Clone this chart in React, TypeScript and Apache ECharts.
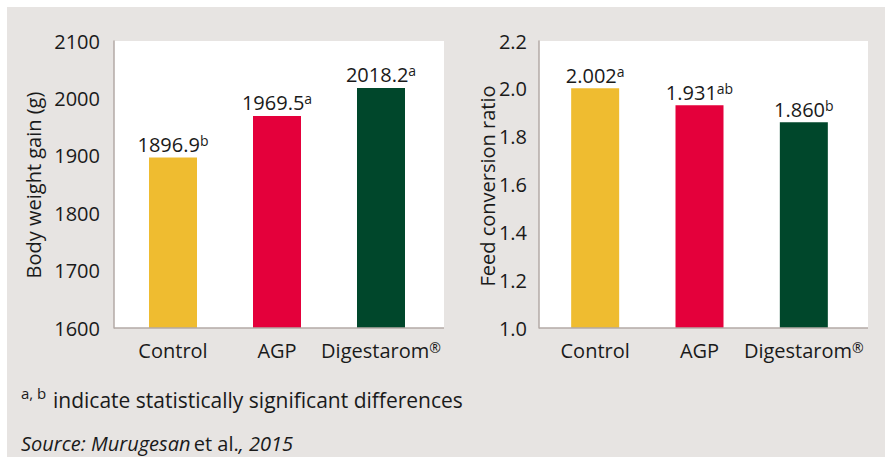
import React, { useEffect, useRef } from "react";
import * as echarts from "echarts";

const categories = ["Control", "AGP", "Digestarom®"];
const bwgValues = [1896.9, 1969.5, 2018.2];
const bwgLetters = ["b", "a", "a"];
const fcrValues = [2.002, 1.931, 1.86];
const fcrLetters = ["a", "ab", "b"];
const barColors = ["#EFBC30", "#E4003B", "#00472B"];
const bwgAxis = { min: 1600, max: 2100, interval: 100 };
const fcrAxis = { min: 1.0, max: 2.2, interval: 0.2 };
const bwgTitle = "Body weight gain (g)";
const fcrTitle = "Feed conversion ratio";
const footnote = "indicate statistically significant differences";

const FONT = "'Open Sans', 'Noto Sans', sans-serif";
const TXT = "#1a1a1a";
const AXIS = "#b3aaa6";
const FS = 20;

export default function App() {
  const ref = useRef<HTMLDivElement>(null);
  useEffect(() => {
    if (!ref.current) return;
    const chart = echarts.init(ref.current, null, { renderer: "svg" });

    const catLabel = {
      color: TXT,
      fontFamily: FONT,
      fontSize: FS,
      margin: 12,
      interval: 0,
      hideOverlap: false,
      formatter: (v: string) => (v.endsWith("®") ? v.slice(0, -1) + "{r|®}" : v),
      rich: {
        r: { fontSize: 14, verticalAlign: "top", color: TXT, fontFamily: FONT, lineHeight: 14 },
      },
    };

    const valRich = {
      v: { fontSize: FS, color: TXT, fontFamily: FONT, lineHeight: 22 },
      s: { fontSize: 14, color: TXT, fontFamily: FONT, verticalAlign: "top", lineHeight: 13 },
    };

    const makeSeries = (vals: number[], letters: string[], idx: number, digits: number) => ({
      type: "bar",
      xAxisIndex: idx,
      yAxisIndex: idx,
      barWidth: 48,
      data: vals.map((v, i) => ({ value: v, itemStyle: { color: barColors[i] } })),
      label: {
        show: true,
        position: "top",
        distance: 2,
        formatter: (p: any) => `{v|${p.value.toFixed(digits)}}{s|${letters[p.dataIndex]}}`,
        rich: valRich,
      },
    });

    chart.setOption({
      animation: false,
      graphic: [
        { type: "rect", z: -10, shape: { x: 7, y: 7, width: 878, height: 450 }, style: { fill: "#e7e4e2" } },
        { type: "rect", z: -9, shape: { x: 114, y: 41, width: 330, height: 287 }, style: { fill: "#ffffff" } },
        { type: "rect", z: -9, shape: { x: 539, y: 41, width: 329, height: 287 }, style: { fill: "#ffffff" } },
        { type: "line", z: 5, shape: { x1: 114, y1: 328, x2: 444, y2: 328 }, style: { stroke: AXIS, lineWidth: 1.5 } },
        { type: "line", z: 5, shape: { x1: 539, y1: 328, x2: 868, y2: 328 }, style: { stroke: AXIS, lineWidth: 1.5 } },
        {
          type: "text", x: 33, y: 185, rotation: Math.PI / 2,
          style: { text: bwgTitle, fill: TXT, font: `${FS}px ${FONT}`, align: "center", verticalAlign: "middle" },
        },
        {
          type: "text", x: 487, y: 186, rotation: Math.PI / 2,
          style: { text: fcrTitle, fill: TXT, font: `${FS}px ${FONT}`, align: "center", verticalAlign: "middle" },
        },
        {
          type: "text", x: 21, y: 393,
          style: { text: "a, b", fill: TXT, font: `15px ${FONT}`, align: "left", verticalAlign: "middle" },
        },
        {
          type: "text", x: 53, y: 400,
          style: { text: footnote, fill: TXT, font: `21px ${FONT}`, align: "left", verticalAlign: "middle" },
        },
        {
          type: "text", x: 21, y: 443,
          style: {
            text: "{i|Source: Murugesan} {n|et al.}{i|, 2015}",
            align: "left",
            verticalAlign: "middle",
            rich: {
              i: { fontStyle: "italic", fontSize: FS, fontFamily: FONT, fill: TXT, color: TXT },
              n: { fontSize: FS, fontFamily: FONT, fill: TXT, color: TXT },
            },
          },
        },
      ],
      grid: [
        { left: 121, right: 452, top: 41, bottom: 129 },
        { left: 543, right: 29, top: 41, bottom: 129 },
      ],
      xAxis: [0, 1].map((i) => ({
        type: "category",
        gridIndex: i,
        data: categories,
        axisLine: { show: false },
        axisTick: { show: false },
        axisLabel: catLabel,
      })),
      yAxis: [
        {
          type: "value",
          gridIndex: 0,
          ...bwgAxis,
          offset: 7,
          axisLine: { show: true, lineStyle: { color: AXIS, width: 1.5 } },
          axisTick: { show: false },
          splitLine: { show: false },
          axisLabel: {
            color: TXT, fontFamily: FONT, fontSize: FS, margin: 14,
            formatter: (v: number) => String(v),
          },
        },
        {
          type: "value",
          gridIndex: 1,
          ...fcrAxis,
          offset: 4,
          axisLine: { show: true, lineStyle: { color: AXIS, width: 1.5 } },
          axisTick: { show: false },
          splitLine: { show: false },
          axisLabel: {
            color: TXT, fontFamily: FONT, fontSize: FS, margin: 12,
            formatter: (v: number) => v.toFixed(1),
          },
        },
      ],
      series: [makeSeries(bwgValues, bwgLetters, 0, 1), makeSeries(fcrValues, fcrLetters, 1, 3)],
    });
    return () => chart.dispose();
  }, []);
  return (
    <div
      ref={ref}
      style={{ position: "absolute", left: 0, top: 0, width: 885, height: 457 }}
    />
  );
}
